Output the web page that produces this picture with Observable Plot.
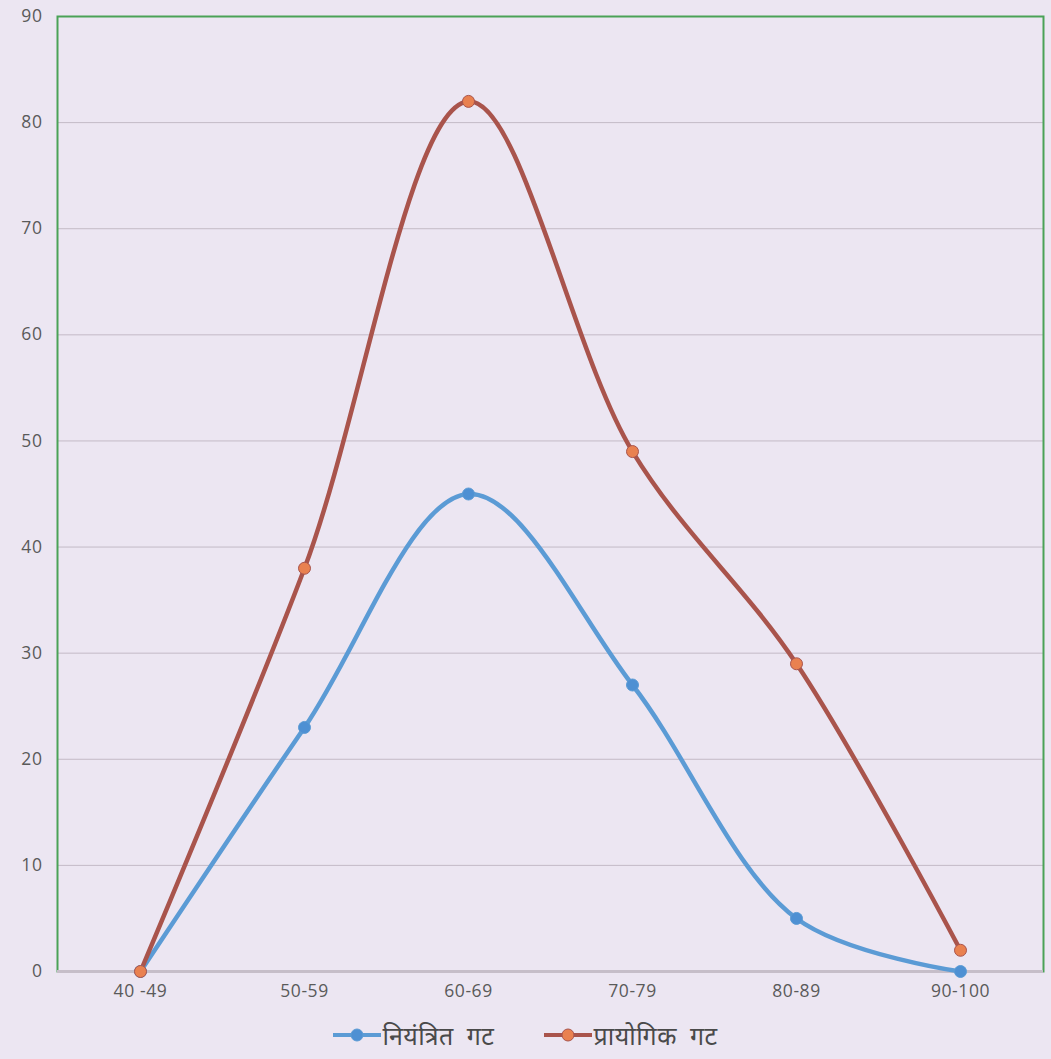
<!DOCTYPE html>
<html>
<head>
<meta charset="utf-8">
<script src="https://cdn.jsdelivr.net/npm/d3@7"></script>
<script src="https://cdn.jsdelivr.net/npm/@observablehq/plot@0.6"></script>
<style>
  html, body { margin: 0; padding: 0; background: #ece6f2; }
  #chart { width: 1051px; }
  #chart svg text { font-size: 17.5px !important; font-family: "Open Sans", sans-serif; fill: #5a5a5a; letter-spacing: 0.6px; }
  #legend { width: 1051px; height: 49px; display: flex; justify-content: center; align-items: center; gap: 50px;
    font-family: "Noto Sans", "Noto Sans Devanagari", "Lohit Devanagari", "Mangal", sans-serif; font-size: 25px; color: #4a4a4a; word-spacing: 6px; letter-spacing: 0.5px; }
  .item { display: flex; align-items: center; }
  .item svg { margin-right: 1px; }
</style>
</head>
<body>
<div id="chart"></div>
<div id="legend"></div>
<script>
const categories = ["40 -49", "50-59", "60-69", "70-79", "80-89", "90-100"];
const controlValues = [0, 23, 45, 27, 5, 0];
const experimentalValues = [0, 38, 82, 49, 29, 2];
const seriesNames = ["नियंत्रित गट", "प्रायोगिक गट"];
const yTicks = [0, 10, 20, 30, 40, 50, 60, 70, 80, 90];

const lineColors = ["#5b9bd5", "#a9544c"];
const dotFills = ["#4e90d3", "#e98150"];

const data = [];
categories.forEach((c, i) => {
  data.push({cat: c, value: controlValues[i], series: seriesNames[0]});
  data.push({cat: c, value: experimentalValues[i], series: seriesNames[1]});
});

const chart = Plot.plot({
  width: 1051,
  height: 1010,
  marginLeft: 57,
  marginRight: 8,
  marginTop: 16,
  marginBottom: 39,
  style: {background: "transparent", fontFamily: "'Open Sans', sans-serif", fontSize: "17px", color: "#5a5a5a"},
  x: {type: "point", domain: categories, padding: 0.5, label: null},
  y: {domain: [0, 90], label: null},
  marks: [
    Plot.ruleY(yTicks.filter(d => d > 0 && d < 90), {stroke: "#c3bac6", strokeWidth: 1}),
    Plot.frame({stroke: "#4aa257", strokeWidth: 2}),
    Plot.ruleY([0], {stroke: "#c6bec9", strokeWidth: 3}),
    Plot.axisY({ticks: yTicks, tickSize: 0, tickPadding: 15, label: null}),
    Plot.axisX({tickSize: 0, tickPadding: 13, label: null}),
    Plot.line(data, {x: "cat", y: "value", z: "series", stroke: d => lineColors[seriesNames.indexOf(d.series)], strokeWidth: 4.5, curve: "catmull-rom"}),
    Plot.dot(data, {x: "cat", y: "value", r: 6, fill: d => dotFills[seriesNames.indexOf(d.series)],
      stroke: d => lineColors[seriesNames.indexOf(d.series)], strokeWidth: 1})
  ]
});
document.getElementById("chart").appendChild(chart);

const legend = document.getElementById("legend");
seriesNames.forEach((name, i) => {
  const item = document.createElement("div");
  item.className = "item";
  item.innerHTML = `<svg width="48" height="14"><line x1="0" y1="7" x2="48" y2="7" stroke="${lineColors[i]}" stroke-width="4"/><circle cx="24" cy="7" r="6" fill="${dotFills[i]}" stroke="${lineColors[i]}"/></svg><span>${name}</span>`;
  legend.appendChild(item);
});
</script>
</body>
</html>
